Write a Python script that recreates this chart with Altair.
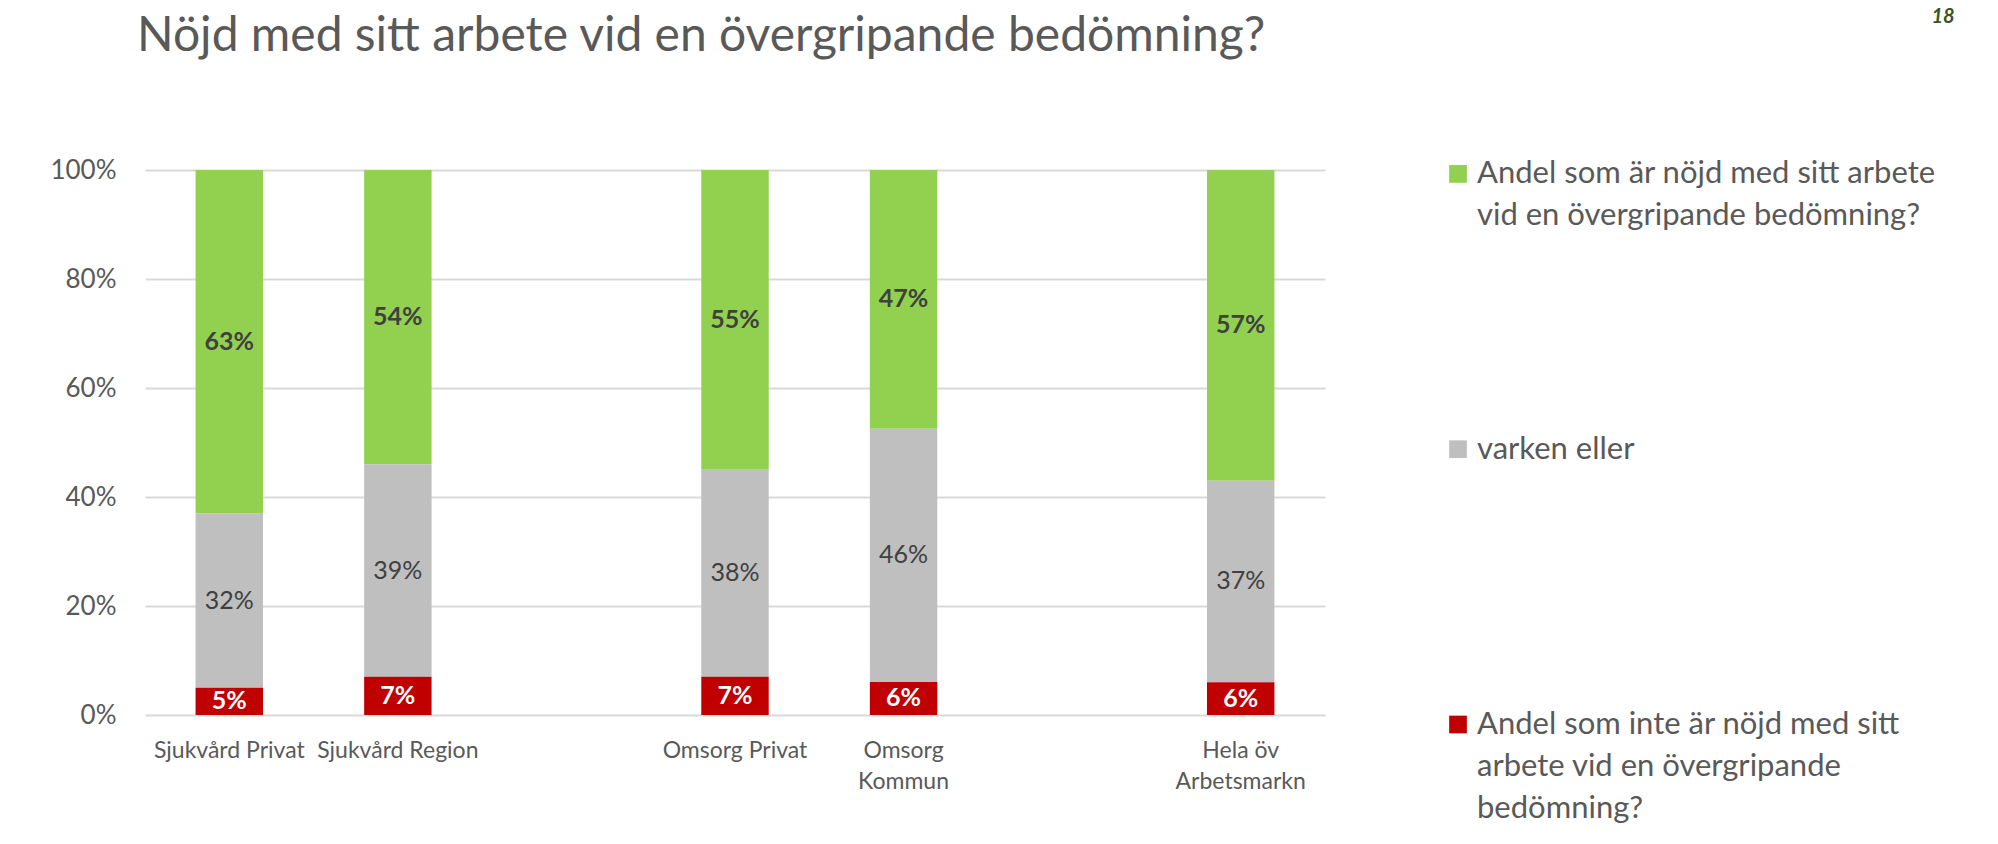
import altair as alt
import pandas as pd

# ---- data ----
title_text = "Nöjd med sitt arbete vid en övergripande bedömning?"
page_number = "18"
categories = ["Sjukvård Privat", "Sjukvård Region", "Omsorg Privat", "Omsorg Kommun", "Hela öv Arbetsmarkn"]
tick_labels = ["Sjukvård Privat", "Sjukvård Region", "Omsorg Privat", "Omsorg\nKommun", "Hela öv\nArbetsmarkn"]
# spacer slots between the groups (empty categories on the axis)
x_domain = ["Sjukvård Privat", "Sjukvård Region", " ", "Omsorg Privat", "Omsorg Kommun", "  ", "Hela öv Arbetsmarkn"]

series = [
    "Andel som är nöjd med sitt arbete vid en övergripande bedömning?",
    "varken eller",
    "Andel som inte  är nöjd med sitt arbete vid en övergripande bedömning?",
]
legend_labels = [
    "Andel som är nöjd med sitt arbete\nvid en övergripande bedömning?",
    "varken eller",
    "Andel som inte  är nöjd med sitt\narbete vid en övergripande\nbedömning?",
]
colors = ["#92D050", "#BFBFBF", "#C00000"]
stack_order = [2, 1, 0]  # red at bottom, grey, green on top

nojd = [63, 54, 55, 47, 57]
varken = [32, 39, 38, 46, 37]
inte_nojd = [5, 7, 7, 6, 6]

values = [nojd, varken, inte_nojd]
rows = []
for s_i, s in enumerate(series):
    for c_i, c in enumerate(categories):
        rows.append({"category": c, "series": s, "value": values[s_i][c_i], "order": stack_order[s_i]})
df = pd.DataFrame(rows)

legend_df = pd.DataFrame({"series": series, "legend_label": legend_labels})
page_df = pd.DataFrame({"page": [page_number]})
title_df = pd.DataFrame({"title": [title_text]})

TXT = "#595959"
FONT = "Lato"

label_expr = " : ".join(
    f"datum.value == '{c}' ? split('{t.replace(chr(10), '|')}', '|')" for c, t in zip(categories, tick_labels)
) + " : ''"

xscale = alt.Scale(domain=x_domain, paddingInner=0.6, paddingOuter=0.3)
x_enc = alt.X(
    "category:N",
    scale=xscale,
    axis=alt.Axis(
        title=None, labelAngle=0, labelFontSize=23, labelFont=FONT, labelColor=TXT,
        labelPadding=24, labelLineHeight=31, domain=False, ticks=False, grid=False,
        labelExpr=label_expr, labelOverlap=False, labelLimit=400,
    ),
)

yscale = alt.Scale(domain=[0, 1])

base = (
    alt.Chart(df)
    .transform_stack(
        stack="value", groupby=["category"], as_=["y0", "y1"], offset="normalize",
        sort=[alt.SortField("order", order="ascending")],
    )
    .transform_calculate(ymid="(datum.y0 + datum.y1) / 2", label="datum.value + '%'")
)

bars = base.mark_bar().encode(
    x=x_enc,
    y=alt.Y(
        "y0:Q", scale=yscale,
        axis=alt.Axis(
            title=None, format="%", values=[0, 0.2, 0.4, 0.6, 0.8, 1.0],
            labelFontSize=26, labelFont=FONT, labelColor=TXT, labelPadding=29,
            ticks=False, tickSize=0, domain=False, grid=True,
            gridColor="#D9D9D9", gridWidth=2,
        ),
    ),
    y2="y1:Q",
    color=alt.Color("series:N", scale=alt.Scale(domain=series, range=colors), legend=None),
)


def label_layer(s, color, weight):
    return base.transform_filter(alt.datum.series == s).mark_text(
        font=FONT, fontSize=25, fontWeight=weight, color=color, baseline="middle", align="center"
    ).encode(
        x=x_enc,
        y=alt.Y("ymid:Q", scale=yscale, axis=None),
        text="label:N",
    )


lab_green = label_layer(series[0], "#404040", "bold")
lab_grey = label_layer(series[1], "#404040", "normal")
lab_red = label_layer(series[2], "#FFFFFF", "bold")

leg_scale = alt.Scale(domain=series, range=[3.9, 554.5], padding=0)

leg_sq = alt.Chart(legend_df).mark_square(size=313, opacity=1).encode(
    x=alt.value(1313),
    y=alt.Y("series:N", scale=leg_scale, axis=None),
    color=alt.Color("series:N", scale=alt.Scale(domain=series, range=colors), legend=None),
)

leg_txt = alt.Chart(legend_df).mark_text(
    align="left", baseline="alphabetic", dy=9.4, lineBreak="\n", lineHeight=42,
    font=FONT, fontSize=31, color=TXT,
).encode(
    x=alt.value(1332),
    y=alt.Y("series:N", scale=leg_scale, axis=None),
    text="legend_label:N",
)

page = alt.Chart(page_df).mark_text(
    font=FONT, fontSize=20, fontWeight="bold", fontStyle="italic", color="#375623",
    align="center", baseline="middle",
).encode(x=alt.value(1798), y=alt.value(-153), text="page:N")

title = alt.Chart(title_df).mark_text(
    font=FONT, fontSize=48, fontWeight="normal", color=TXT, align="left", baseline="alphabetic",
).encode(x=alt.value(-8), y=alt.value(-119), text="title:N")

chart = (
    alt.layer(bars, lab_green, lab_grey, lab_red, leg_sq, leg_txt, page, title)
    .resolve_scale(y="independent")
    .properties(
        width=1180,
        height=545,
        autosize=alt.AutoSizeParams(type="none"),
        padding={"left": 137, "top": 162, "right": 664, "bottom": 118},
    )
    .configure_view(strokeWidth=0, stroke="transparent")
    .configure_axis(domain=False, ticks=False)
    .configure(background="white", style={"cell": {"stroke": "transparent", "strokeWidth": 0}})
)

chart.save("out.html", embed_options={"renderer": "svg", "actions": False})
